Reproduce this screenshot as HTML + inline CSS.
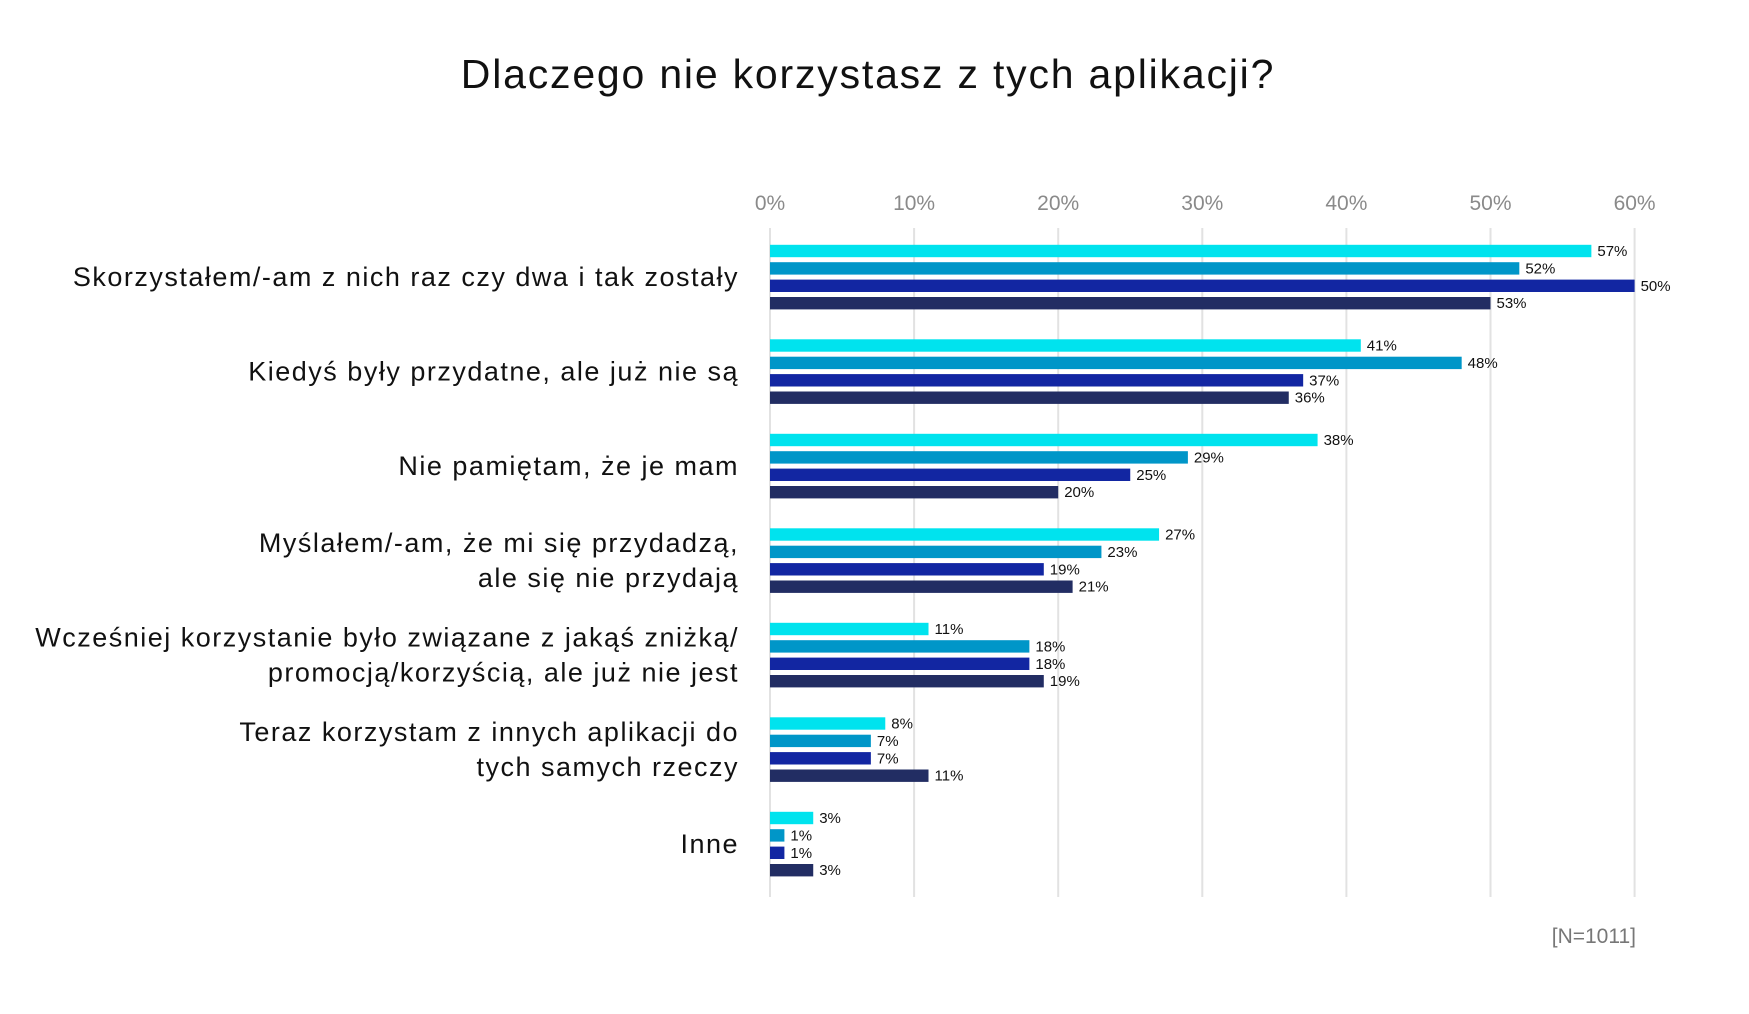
<!DOCTYPE html>
<html><head><meta charset="utf-8">
<style>
body{margin:0;background:#fff;width:1749px;height:1009px;overflow:hidden;font-family:"Liberation Sans",sans-serif;}
</style></head>
<body>
<svg width="1749" height="1009" xmlns="http://www.w3.org/2000/svg" id="chart">
<text x="868" y="88" text-anchor="middle" font-size="41" letter-spacing="1.8" fill="#111">Dlaczego nie korzystasz z tych aplikacji?</text>
<text x="1636" y="943" text-anchor="end" font-size="21" fill="#777">[N=1011]</text>
<g id="grid"></g><g id="bars"></g><g id="cats"></g>
</svg>
<script>
const categories=[["Skorzystałem/-am z nich raz czy dwa i tak zostały"],["Kiedyś były przydatne, ale już nie są"],["Nie pamiętam, że je mam"],["Myślałem/-am, że mi się przydadzą,","ale się nie przydają"],["Wcześniej korzystanie było związane z jakąś zniżką/","promocją/korzyścią, ale już nie jest"],["Teraz korzystam z innych aplikacji do","tych samych rzeczy"],["Inne"]];
const series1=[57,41,38,27,11,8,3];
const series2=[52,48,29,23,18,7,1];
const series3=[60,37,25,19,18,7,1];
const series4=[50,36,20,21,19,11,3];
const labels1=["57%","41%","38%","27%","11%","8%","3%"];
const labels2=["52%","48%","29%","23%","18%","7%","1%"];
const labels3=["50%","37%","25%","19%","18%","7%","1%"];
const labels4=["53%","36%","20%","21%","19%","11%","3%"];
const ticks=[0,10,20,30,40,50,60];
const colors=["#00e3ee","#0096c8","#1226a2","#222d63"];
const NS="http://www.w3.org/2000/svg";
const x0=770,pxPer=14.41;
function xs(v){return x0+v*pxPer;}
function gy(i){return 277+i*94.5;}
function mk(t,a,p){const e=document.createElementNS(NS,t);for(const k in a)e.setAttribute(k,a[k]);p.appendChild(e);return e;}
const grid=document.getElementById('grid'),bars=document.getElementById('bars'),cats=document.getElementById('cats');
ticks.forEach(t=>{
  const l=mk('line',{x1:xs(t),x2:xs(t),y1:228,y2:897,stroke:'#e2e2e2','stroke-width':2},grid);
  
  
  const tx=mk('text',{x:xs(t),y:210,'text-anchor':'middle','font-size':21,fill:'#8a8a8a'},grid);
  tx.textContent=t+'%';
  
  
});
const allS=[series1,series2,series3,series4],allL=[labels1,labels2,labels3,labels4];
categories.forEach((c,i)=>{
  const cy=gy(i);
  allS.forEach((s,j)=>{
    const y=cy-26+j*17.4;
    const r=mk('rect',{x:x0,y:y-6.2,width:s[i]*pxPer,height:12.4,fill:colors[j]},bars);
    
    
    const t=mk('text',{x:xs(s[i])+6,y:y+5,'font-size':15,fill:'#111'},bars);
    t.textContent=allL[j][i];
    
    
  });
  const n=c.length;
  c.forEach((line,k)=>{
    const t=mk('text',{x:739,y:cy+9+(k-(n-1)/2)*35,'text-anchor':'end','font-size':27,'letter-spacing':1.5,fill:'#111'},cats);
    t.textContent=line;
    
    
  });
});
</script>
</body></html>
